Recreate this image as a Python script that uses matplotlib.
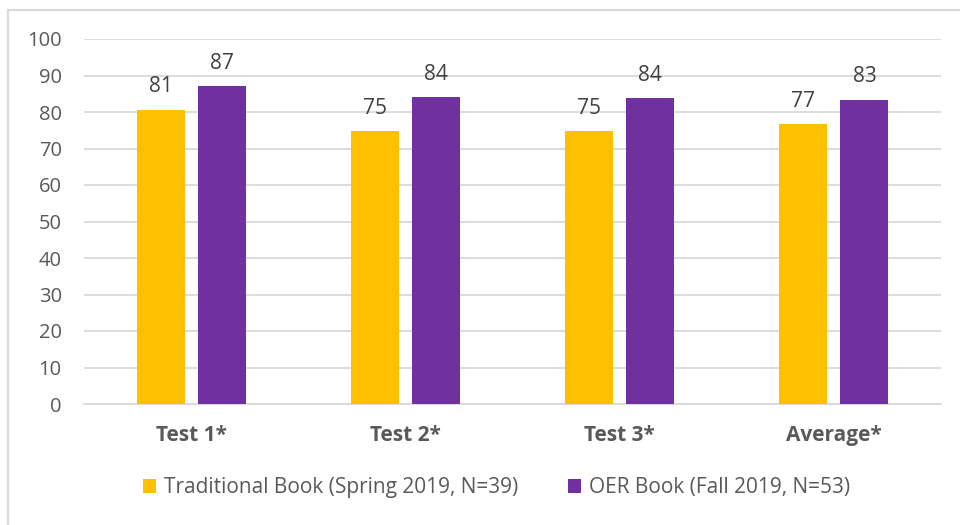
import matplotlib.pyplot as plt
import numpy as np
from matplotlib.lines import Line2D

# --------------------------------------------------------------
# Data
# --------------------------------------------------------------
categories = ['Test 1*', 'Test 2*', 'Test 3*', 'Average*']
traditional = [80.6, 74.7, 74.7, 76.7]
oer = [87.1, 84.1, 83.7, 83.3]
series_names = ['Traditional Book (Spring 2019, N=39)', 'OER Book (Fall 2019, N=53)']
y_ticks = [0, 10, 20, 30, 40, 50, 60, 70, 80, 90, 100]

plt.rcParams['font.family'] = ['Open Sans', 'DejaVu Sans']

fig = plt.figure(figsize=(9.6, 5.25), dpi=100)
ax = fig.add_axes([84 / 960, 1 - 404 / 525, 857 / 960, 365 / 525])

x = np.arange(len(categories))
width = 0.224
offset = 0.1425
bars1 = ax.bar(x - offset, traditional, width, color='#FFC000', label=series_names[0], zorder=3)
bars2 = ax.bar(x + offset, oer, width, color='#7030A0', label=series_names[1], zorder=3)

for bars in (bars1, bars2):
    ax.bar_label(bars, fmt='%.0f', padding=9, fontsize=15, color='#404040')

ax.set_xlim(-0.5, len(categories) - 0.5)
ax.set_ylim(0, 100)
ax.set_yticks(y_ticks)
ax.set_xticks(x)
ax.set_xticklabels(categories, fontweight='bold', fontsize=15, color='#595959')
ax.tick_params(axis='y', labelsize=14.5, labelcolor='#595959', length=0, pad=16)
ax.tick_params(axis='x', length=0, pad=15)
ax.grid(axis='y', color='#D9D9D9', linewidth=1.3, zorder=0)
for side in ['top', 'right', 'left']:
    ax.spines[side].set_visible(False)
ax.spines['bottom'].set_color('#D9D9D9')
ax.spines['bottom'].set_linewidth(1.3)

fig.legend(loc='center', bbox_to_anchor=(0.517, 1 - 488 / 525), ncol=2, frameon=False,
           fontsize=15, labelcolor='#595959', handlelength=0.65, handleheight=0.65,
           handletextpad=0.35, columnspacing=2.4)

# light chart frame
fig.add_artist(Line2D([8 / 960, 8 / 960], [0, 1 - 10 / 525], color='#D9D9D9', linewidth=1.5))
fig.add_artist(Line2D([8 / 960, 1], [1 - 10 / 525, 1 - 10 / 525], color='#D9D9D9', linewidth=1.5))

fig.savefig('out.png', dpi=100)
